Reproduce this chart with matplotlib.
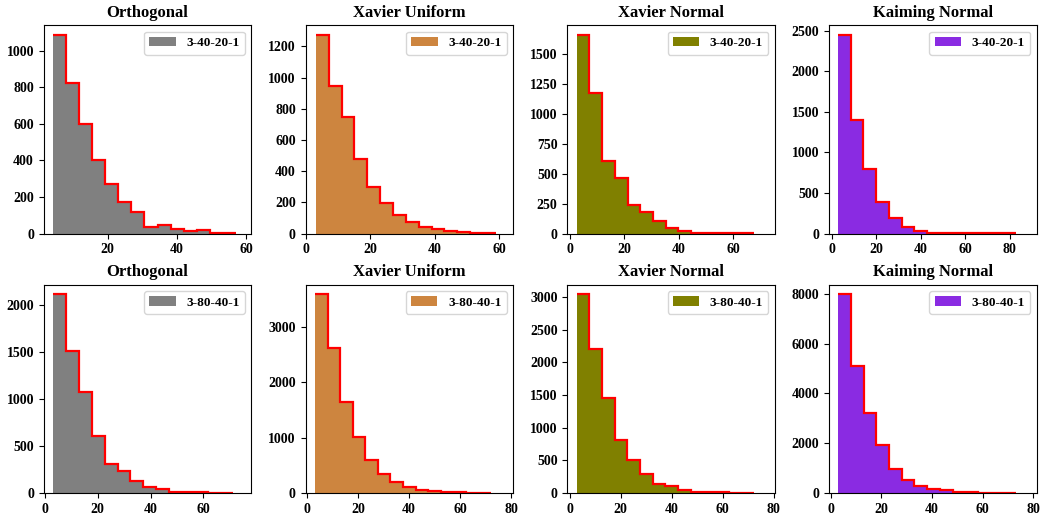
import numpy as np
import matplotlib.pyplot as plt
from matplotlib.ticker import MultipleLocator

plt.rcParams['font.family'] = ['Liberation Serif', 'DejaVu Serif']
plt.rcParams['font.weight'] = 'bold'

titles = ["Orthogonal", "Xavier Uniform", "Xavier Normal", "Kaiming Normal"]
colors = ["grey", "peru", "olive", "blueviolet"]
archs = ["3-40-20-1", "3-80-40-1"]

# histogram counts (14 bins each), row 1 = 3-40-20-1, row 2 = 3-80-40-1
counts_orth_40 = [1085, 822, 598, 402, 271, 171, 116, 36, 47, 25, 13, 18, 5, 2]
counts_xu_40 = [1273, 947, 748, 475, 300, 194, 119, 77, 43, 28, 17, 9, 6, 4]
counts_xn_40 = [1658, 1172, 608, 467, 239, 178, 106, 47, 25, 8, 8, 5, 3, 2]
counts_km_40 = [2447, 1406, 791, 385, 193, 78, 33, 12, 8, 4, 3, 2, 2, 1]
counts_orth_80 = [2117, 1517, 1080, 611, 313, 238, 128, 64, 43, 14, 11, 7, 4, 3]
counts_xu_80 = [3590, 2627, 1645, 1006, 602, 349, 193, 108, 54, 30, 18, 12, 6, 4]
counts_xn_80 = [3041, 2204, 1459, 816, 510, 286, 143, 102, 46, 20, 15, 10, 5, 4]
counts_km_80 = [7973, 5110, 3197, 1913, 963, 535, 281, 147, 107, 54, 27, 13, 10, 5]

# first and last bin edge of each histogram
ranges_40 = [(4.3, 57.0), (3.0, 59.0), (2.5, 67.9), (2.7, 82.9)]
ranges_80 = [(3.2, 71.3), (3.2, 72.1), (2.7, 72.3), (2.9, 73.3)]

xlims_40 = [(1.6, 61.5), (-0.2, 64.4), (-1.0, 75.5), (-1.3, 92.1)]
xlims_80 = [(-0.4, 78.2), (-0.5, 80.8), (-1.0, 80.6), (-0.65, 81.4)]

# y tick spacing (None = automatic)
ysteps_40 = [None, None, None, None]
ysteps_80 = [None, 1000, None, None]

counts = [[counts_orth_40, counts_xu_40, counts_xn_40, counts_km_40],
          [counts_orth_80, counts_xu_80, counts_xn_80, counts_km_80]]
ranges = [ranges_40, ranges_80]
xlims = [xlims_40, xlims_80]
ysteps = [ysteps_40, ysteps_80]

fig, axes = plt.subplots(2, 4, figsize=(10.41, 5.14), dpi=100)
fig.subplots_adjust(left=0.042, right=0.996, top=0.951, bottom=0.041,
                    wspace=0.26, hspace=0.245)

for r in range(2):
    for c in range(4):
        ax = axes[r, c]
        vals = counts[r][c]
        lo, hi = ranges[r][c]
        edges = np.linspace(lo, hi, len(vals) + 1)
        ax.stairs(vals, edges, fill=True, color=colors[c], label=archs[r])
        ax.stairs(vals, edges, baseline=None, color='red', lw=1.6)
        ax.set_xlim(*xlims[r][c])
        ax.set_ylim(bottom=0)
        ax.margins(y=0.05)
        ax.xaxis.set_major_locator(MultipleLocator(20))
        if ysteps[r][c]:
            ax.yaxis.set_major_locator(MultipleLocator(ysteps[r][c]))
        ax.set_title(titles[c], fontsize=12, fontweight='bold')
        ax.tick_params(labelsize=10)
        ax.legend(loc='upper right', prop={'size': 9.5, 'weight': 'bold'})

plt.savefig('out.png')
